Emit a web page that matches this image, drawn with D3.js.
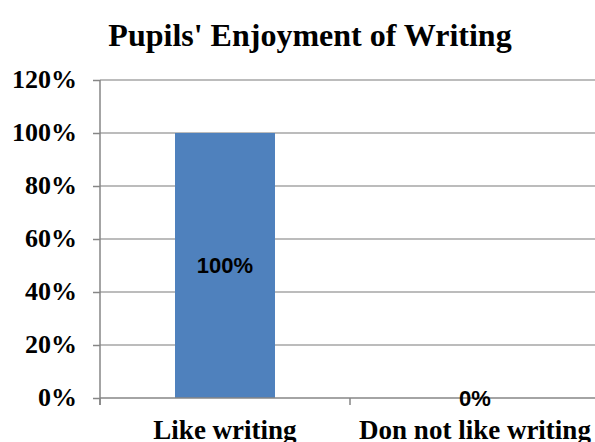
<!DOCTYPE html>
<html>
<head>
<meta charset="utf-8">
<script src="https://cdn.jsdelivr.net/npm/d3@7"></script>
<style>
  body { margin: 0; background: #fff; }
  .title { font-family: "Liberation Serif", "Times New Roman", serif; font-weight: bold; font-size: 32px; }
  .axis text { font-family: "Liberation Serif", "Times New Roman", serif; font-weight: bold; font-size: 26px; fill: #000; }
  .xlab text { font-size: 27px; }
  .label { font-family: "Liberation Sans", Arial, sans-serif; font-weight: bold; font-size: 22px; fill: #000; }
</style>
</head>
<body>
<svg width="595" height="442"></svg>
<script>
// chart data
const categories = ['Like writing', 'Don not like writing'];
const values = [100, 0];
const yTicks = [0, 20, 40, 60, 80, 100, 120];

const margin = { top: 80, right: -5, bottom: 44, left: 100 };
const width = 595 - margin.left - margin.right;
const height = 442 - margin.top - margin.bottom;

const svg = d3.select('svg');

svg.append('text')
  .attr('class', 'title')
  .attr('x', 310)
  .attr('y', 46)
  .attr('text-anchor', 'middle')
  .text("Pupils' Enjoyment of Writing");

const g = svg.append('g')
  .attr('transform', 'translate(' + margin.left + ',' + margin.top + ')');

const x = d3.scaleBand().domain(categories).range([0, width]).paddingInner(0.6).paddingOuter(0.3);
const xEdge = d3.scaleLinear().domain([0, categories.length]).range([0, width]);
const y = d3.scaleLinear().domain([0, 120]).range([height, 0]);

// gridlines
g.append('g')
  .selectAll('line')
  .data(yTicks.filter(d => d > 0))
  .enter().append('line')
  .attr('x1', 0).attr('x2', width)
  .attr('y1', d => y(d)).attr('y2', d => y(d))
  .attr('stroke', '#a6a6a6').attr('stroke-width', 1.5);

// bars
g.selectAll('.bar')
  .data(values)
  .enter().append('rect')
  .attr('class', 'bar')
  .attr('x', (d, i) => x(categories[i]))
  .attr('y', d => y(d))
  .attr('width', x.bandwidth())
  .attr('height', d => height - y(d))
  .attr('fill', '#4f81bd');

// y axis
const yAxis = g.append('g')
  .attr('class', 'axis')
  .call(d3.axisLeft(y).tickValues(yTicks).tickFormat(d => d + '%').tickSize(7).tickPadding(16));
yAxis.selectAll('line, path').attr('stroke', '#868686').attr('stroke-width', 1.5);
yAxis.select('.domain').attr('d', 'M0,' + y(120) + 'V' + (height + 7));
yAxis.selectAll('text').attr('dy', '0.3em');

// x axis
const xAxis = g.append('g')
  .attr('transform', 'translate(0,' + height + ')');
xAxis.append('line')
  .attr('x1', 0).attr('x2', width)
  .attr('stroke', '#868686').attr('stroke-width', 1.5);
xAxis.selectAll('.tick')
  .data(d3.range(categories.length + 1))
  .enter().append('line')
  .attr('x1', d => xEdge(d)).attr('x2', d => xEdge(d))
  .attr('y1', 0).attr('y2', 7)
  .attr('stroke', '#868686').attr('stroke-width', 1.5);
xAxis.append('g').attr('class', 'axis xlab')
  .selectAll('text')
  .data(categories)
  .enter().append('text')
  .attr('x', d => x(d) + x.bandwidth() / 2)
  .attr('y', 41)
  .attr('text-anchor', 'middle')
  .text(d => d);

// data labels
g.selectAll('.label')
  .data(values)
  .enter().append('text')
  .attr('class', 'label')
  .attr('x', (d, i) => x(categories[i]) + x.bandwidth() / 2)
  .attr('y', d => (y(d) + height) / 2)
  .attr('dy', '0.35em')
  .attr('text-anchor', 'middle')
  .text(d => d + '%');
</script>
</body>
</html>
